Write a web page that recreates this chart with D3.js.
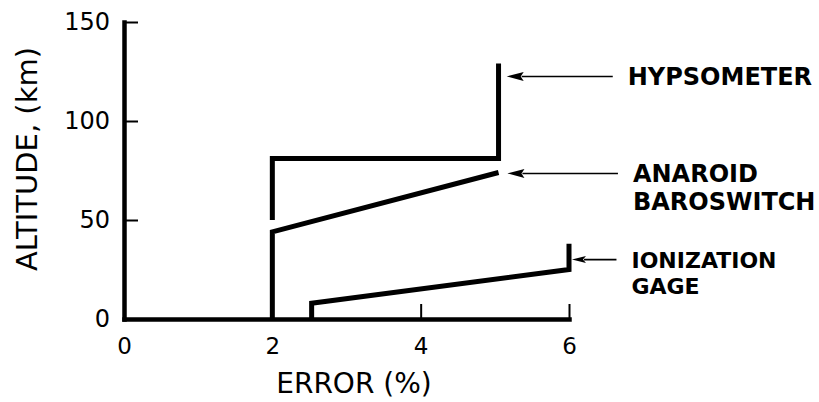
<!DOCTYPE html>
<html>
<head>
<meta charset="utf-8">
<script src="https://cdn.jsdelivr.net/npm/d3@7"></script>
<style>
  html, body { margin: 0; padding: 0; background: #fff; }
  svg { display: block; }
  text { font-family: "DejaVu Sans", sans-serif; fill: #000; }
</style>
</head>
<body>
<svg id="chart" width="819" height="402"></svg>
<script>
// Axis ticks
const errorTicks = [0, 2, 4, 6];
const altitudeTicks = [0, 50, 100, 150];

// Error (%) versus altitude (km) for each instrument
const hypsometerError = [2, 2, 5.05, 5.05];
const hypsometerAltitude = [50, 81, 81, 129];

const baroswitchError = [2, 2, 5.05];
const baroswitchAltitude = [0, 44, 74];

const ionizationError = [2.53, 2.53, 6, 6];
const ionizationAltitude = [0, 8, 25, 38];

// Callout arrows: tip / tail in data units, with their label lines
const calloutNames = [["HYPSOMETER"], ["ANAROID", "BAROSWITCH"], ["IONIZATION", "GAGE"]];
const calloutAltitude = [122.5, 73.5, 30];
const calloutTipError = [5.16, 5.17, 6.04];
const calloutTailError = [6.59, 6.66, 6.64];
const calloutFontSize = [24, 24, 22];

const svg = d3.select("#chart");
const W = 819, H = 402;
svg.append("rect").attr("width", W).attr("height", H).attr("fill", "#fff");

const x = d3.scaleLinear().domain([0, 6]).range([124, 569]);
const y = d3.scaleLinear().domain([0, 150]).range([319, 22]);

// Axes with inward ticks
const gx = svg.append("g")
  .attr("transform", `translate(0,${y(0)})`)
  .call(d3.axisBottom(x).tickValues(errorTicks).tickSizeInner(-15).tickSizeOuter(0).tickPadding(19)
    .tickFormat(d3.format("d")));
const gy = svg.append("g")
  .attr("transform", `translate(${x(0)},0)`)
  .call(d3.axisLeft(y).tickValues(altitudeTicks).tickSizeInner(-14).tickSizeOuter(0).tickPadding(14)
    .tickFormat(d3.format("d")));

[gx, gy].forEach(g => {
  g.select(".domain").attr("stroke", "#000").attr("stroke-width", 4.5).attr("stroke-linecap", "square");
  g.selectAll(".tick line").attr("stroke", "#000").attr("stroke-width", 2);
  g.selectAll(".tick text").attr("font-family", "DejaVu Sans").attr("fill", "#000");
});
gx.selectAll(".tick text").attr("font-size", 23);
gy.selectAll(".tick text").attr("font-size", 24);
// The zero tick of the altitude axis sits on the error axis
gy.selectAll(".tick").filter(d => d === 0).select("line").remove();

// Axis titles
svg.append("text")
  .attr("x", 354).attr("y", 393)
  .attr("text-anchor", "middle").attr("font-size", 28)
  .text("ERROR (%)");
svg.append("text")
  .attr("transform", "translate(37,159) rotate(-90)")
  .attr("text-anchor", "middle").attr("font-size", 29)
  .text("ALTITUDE, (km)");

// Instrument curves
const line = d3.line().x(d => x(d[0])).y(d => y(d[1]));
const series = [
  [hypsometerError, hypsometerAltitude],
  [baroswitchError, baroswitchAltitude],
  [ionizationError, ionizationAltitude]
];
series.forEach(([e, a]) => {
  svg.append("path")
    .datum(e.map((v, i) => [v, a[i]]))
    .attr("d", line)
    .attr("fill", "none")
    .attr("stroke", "#000")
    .attr("stroke-width", 5)
    .attr("stroke-linejoin", "miter")
    .attr("stroke-linecap", "butt");
});

// Callouts
calloutNames.forEach((names, i) => {
  const yy = y(calloutAltitude[i]);
  const tip = x(calloutTipError[i]);
  const tail = x(calloutTailError[i]);
  const headLen = i === 2 ? 14 : 17;
  const headHalf = i === 2 ? 3.5 : 4.5;
  svg.append("line")
    .attr("x1", tip + headLen - 2).attr("x2", tail)
    .attr("y1", yy).attr("y2", yy)
    .attr("stroke", "#000").attr("stroke-width", 1.6);
  svg.append("path")
    .attr("d", `M${tip},${yy} L${tip + headLen},${yy - headHalf} L${tip + headLen - 3},${yy} L${tip + headLen},${yy + headHalf} Z`)
    .attr("fill", "#000");
  const fs = calloutFontSize[i];
  names.forEach((name, j) => {
    svg.append("text")
      .attr("x", tail + 15)
      .attr("y", yy + fs * 0.37 + j * (fs + 4))
      .attr("font-size", fs)
      .attr("font-weight", "bold")
      .text(name);
  });
});
</script>
</body>
</html>
